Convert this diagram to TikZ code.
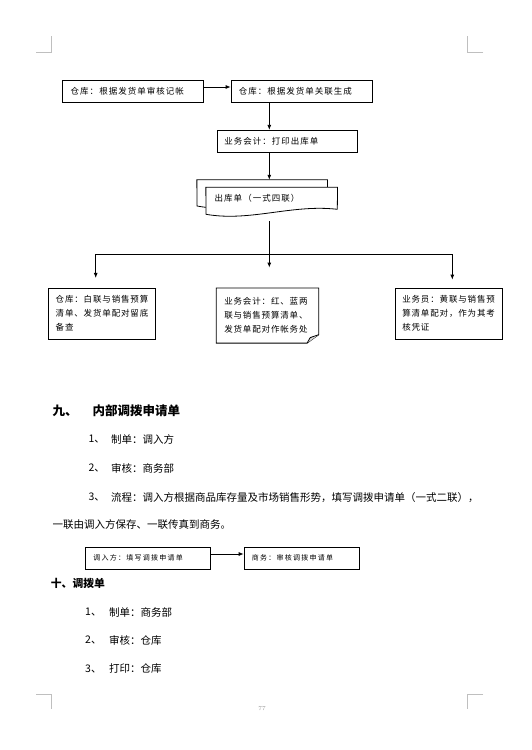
\documentclass[tikz,border=0pt]{standalone}
\usepackage{fontspec}
\newfontfamily\cjk{Noto Sans CJK SC}
\newfontfamily\cjka[LetterSpace=12]{Noto Sans CJK SC}
\newfontfamily\cjkb[LetterSpace=10]{Noto Sans CJK SC}
\newfontfamily\cjkc[LetterSpace=18]{Noto Sans CJK SC}
\usetikzlibrary{arrows.meta}
\begin{document}
\begin{tikzpicture}[x=1pt,y=-1pt,
  arr/.style={-{Latex[length=5pt,width=4pt]}, line width=0.8pt},
  ln/.style={line width=0.8pt},
  cornermk/.style={line width=0.8pt, draw=black!25},
  topbox/.style={draw, line width=0.8pt, minimum height=22pt, inner ysep=0pt, align=left, font=\cjka\fontsize{8.5}{10}\selectfont},
  lowbox/.style={line width=0.8pt, inner ysep=0pt, align=left, font=\cjkb\fontsize{8.5}{14}\selectfont},
  smallbox/.style={draw, line width=0.8pt, minimum height=22pt, inner ysep=0pt, align=left, font=\cjkc\fontsize{7}{8}\selectfont},
  body/.style={anchor=west, inner sep=0pt, font=\cjk\fontsize{10.5}{12}\selectfont},
  hd/.style={anchor=west, inner sep=0pt, font=\cjk\bfseries\fontsize{12.5}{14}\selectfont},
  hdb/.style={anchor=west, inner sep=0pt, font=\cjk\bfseries\fontsize{10.8}{12}\selectfont}
]
\useasboundingbox[fill=white] (0,0) rectangle (532,750);

% corner marks
\draw[cornermk] (36,52) -- (51.5,52) -- (51.5,36);
\draw[cornermk] (483,52) -- (467.5,52) -- (467.5,36);
\draw[cornermk] (36,694) -- (51.5,694) -- (51.5,709);
\draw[cornermk] (483,694) -- (467.5,694) -- (467.5,709);

% top flow
\node[topbox, inner xsep=8.4pt, text width=124.2pt] (A) at (132.8,91.3) {仓库：根据发货单审核记帐};
\node[topbox, inner xsep=7.7pt, text width=125.9pt] (B) at (301.7,91.3) {仓库：根据发货单关联生成};
\node[topbox, inner xsep=7pt, text width=126pt] (C) at (287.3,141.3) {业务会计：打印出库单};

% multi document
\node[minimum width=130.3pt, minimum height=26.7pt, inner sep=0pt] (Db) at (262.2,193.3) {};
\node[minimum width=131.3pt, minimum height=25.7pt, inner sep=0pt] (D) at (271.7,200.2) {};
\draw[ln, fill=white] (Db.north west) -- (Db.north east) -- (327.3,203) .. controls (285,198) and (240,214) .. (197,206) -- cycle;
\draw[ln, fill=white] (D.north west) -- (D.north east) -- (337.3,209.3) .. controls (292,204) and (250,222) .. (206,214.3) -- cycle;
\node[anchor=west, inner sep=0pt, font=\cjka\fontsize{8.5}{10}\selectfont] (Dt) at (214.5,198.5) {出库单（一式四联）};

\coordinate (vx) at (269.3,0);
\draw[arr] ([yshift=4.3pt]A.east) -- ([yshift=4.3pt]B.west);
\draw[arr] (B.south -| vx) -- (C.north -| vx);
\draw[arr] (C.south -| vx) -- (Db.north -| vx);

% lower boxes
\node[lowbox, draw, inner xsep=7.4pt, text width=92.6pt, minimum height=50.7pt] (L) at (102,313.7) {仓库：白联与销售预算\\清单、发货单配对留底\\备查};
\node[lowbox, inner xsep=7.6pt, text width=86.4pt, minimum height=54.4pt] (M) at (267.5,315.5) {业务会计：红、蓝两\\联与销售预算清单、\\发货单配对作帐务处};
\draw[ln] (M.north west) -- (M.north east) -- ([yshift=8.4pt]M.south east) -- ([xshift=-11.6pt]M.south east) -- (M.south west) -- cycle;
\draw[ln, fill=black!15] ([yshift=8.4pt]M.south east) -- ([xshift=-8.5pt,yshift=5.5pt]M.south east) -- ([xshift=-11.6pt]M.south east);
\node[lowbox, draw, inner xsep=6.6pt, text width=93.8pt, minimum height=50.7pt] (R) at (449.2,313.7) {业务员：黄联与销售预\\算清单配对，作为其考\\核凭证};

\coordinate (hl) at (95.7,254);
\coordinate (hr) at (452.3,254);
\draw[ln] (hl) -- (hr);
\draw[arr, shorten <=8pt, shorten >=20.3pt] (D.south -| vx) -- (M.north -| vx);
\draw[arr, shorten >=10pt] (hl) -- (L.north -| hl);
\draw[arr, shorten >=8.3pt] (hr) -- (R.north -| hr);

% section 9
\node[hd] (h9) at (52.3,410.7) {九、};
\node[hd] (h9t) at (92.3,410.7) {内部调拨申请单};
\node[body] (n1) at (88.3,439.3) {1、};
\node[body] (t1) at (111,439.3) {制单：调入方};
\node[body] (n2) at (88.3,468.3) {2、};
\node[body] (t2) at (111,468.3) {审核：商务部};
\node[body] (n3) at (88.3,497.3) {3、};
\node[body] (t3) at (111,497.3) {流程：调入方根据商品库存量及市场销售形势，填写调拨申请单（一式二联），};
\node[body] (t4) at (52.3,525) {一联由调入方保存、一联传真到商务。};

\node[smallbox, inner xsep=8pt, text width=109pt] (S1) at (147.8,558) {调入方：填写调拨申请单};
\node[smallbox, inner xsep=7.7pt, text width=99.9pt] (S2) at (301.7,558) {商务：审核调拨申请单};
\draw[arr] ([yshift=4pt]S1.east) -- ([yshift=4pt]S2.west);

% section 10
\node[hdb] (h10) at (50.7,583.3) {十、调拨单};
\node[body] (m1) at (85,612.3) {1、};
\node[body] (u1) at (109,612.3) {制单：商务部};
\node[body] (m2) at (85,640.3) {2、};
\node[body] (u2) at (109,640.3) {审核：仓库};
\node[body] (m3) at (85,669) {3、};
\node[body] (u3) at (109,669) {打印：仓库};

\node[inner sep=0pt, text=black!40, font=\fontsize{6}{6}\selectfont] (pg) at (262,709) {77};
\end{tikzpicture}
\end{document}
